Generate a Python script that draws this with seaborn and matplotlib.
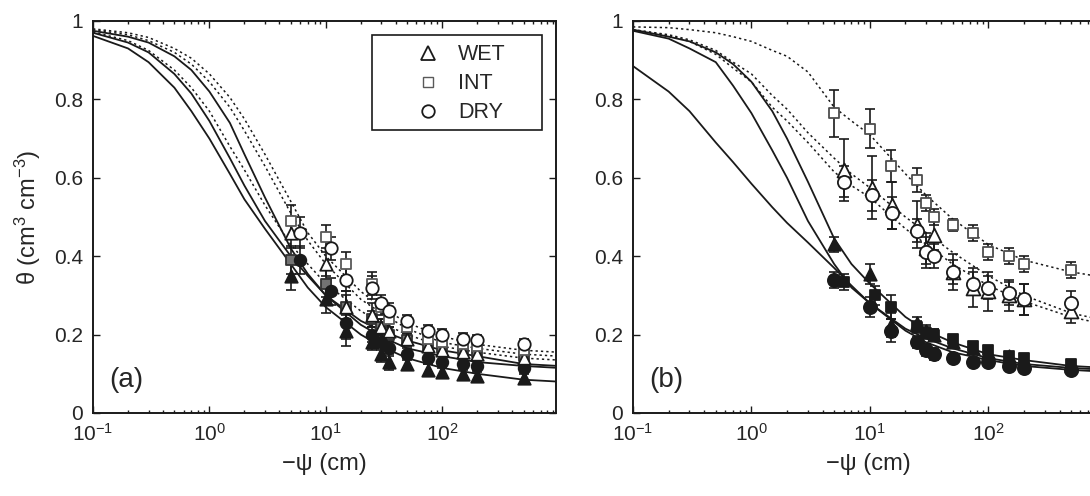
import matplotlib
matplotlib.use("Agg")
import numpy as np
import pandas as pd
import seaborn as sns
import matplotlib.pyplot as plt
from matplotlib.lines import Line2D
from matplotlib.patches import Rectangle
from matplotlib.ticker import FixedLocator, LogLocator, NullFormatter, FixedFormatter

# ---------------- data ----------------
psi_grid = [0.1, 0.2, 0.3, 0.5, 0.7, 1, 1.5, 2, 3, 5, 7, 10, 20, 30, 50, 100, 200, 500, 1000]

# panel (a) fitted curves (solid: filled symbols, dotted: open symbols)
a_solid_1 = [0.962, 0.93, 0.895, 0.83, 0.77, 0.70, 0.61, 0.545, 0.47, 0.38, 0.32, 0.27, 0.20, 0.17, 0.14, 0.115, 0.10, 0.085, 0.08]
a_solid_2 = [0.97, 0.945, 0.92, 0.865, 0.815, 0.745, 0.65, 0.58, 0.49, 0.40, 0.35, 0.30, 0.235, 0.21, 0.185, 0.16, 0.145, 0.125, 0.12]
a_solid_3 = [0.975, 0.96, 0.945, 0.91, 0.875, 0.82, 0.74, 0.66, 0.55, 0.42, 0.355, 0.30, 0.225, 0.195, 0.165, 0.145, 0.13, 0.12, 0.115]
a_dot_1 = [0.972, 0.95, 0.925, 0.875, 0.83, 0.77, 0.68, 0.62, 0.53, 0.43, 0.38, 0.33, 0.26, 0.23, 0.20, 0.17, 0.155, 0.14, 0.135]
a_dot_2 = [0.978, 0.965, 0.95, 0.92, 0.89, 0.845, 0.78, 0.72, 0.63, 0.51, 0.44, 0.38, 0.29, 0.255, 0.215, 0.18, 0.165, 0.15, 0.145]
a_dot_3 = [0.98, 0.97, 0.958, 0.93, 0.905, 0.865, 0.805, 0.75, 0.66, 0.54, 0.46, 0.40, 0.31, 0.27, 0.23, 0.195, 0.175, 0.16, 0.155]

# panel (a) measurements
a_psi = [5, 10, 15, 25, 30, 35, 50, 75, 100, 150, 200, 500]
a_psi_dry = [6, 11, 15, 25, 30, 35, 50, 75, 100, 150, 200, 500]
a_wet_open = [0.46, 0.38, 0.27, 0.25, 0.22, 0.21, 0.19, 0.17, 0.16, 0.155, 0.15, 0.14]
a_int_open = [0.49, 0.45, 0.38, 0.33, 0.27, 0.24, 0.22, 0.19, 0.18, 0.175, 0.17, 0.16]
a_dry_open = [0.46, 0.42, 0.34, 0.32, 0.28, 0.26, 0.235, 0.21, 0.20, 0.19, 0.185, 0.175]
a_wet_fill = [0.35, 0.29, 0.21, 0.18, 0.15, 0.13, 0.125, 0.11, 0.105, 0.10, 0.095, 0.09]
a_int_fill = [0.39, 0.33, 0.27, 0.24, 0.22, 0.20, 0.185, 0.17, 0.165, 0.16, 0.155, 0.145]
a_dry_fill = [0.39, 0.31, 0.23, 0.20, 0.18, 0.165, 0.15, 0.14, 0.13, 0.125, 0.12, 0.115]
a_err_open = [0.04, 0.03, 0.03, 0.03, 0.02, 0.02, 0.015, 0.015, 0.015, 0.015, 0.015, 0.015]
a_err_fill = [0.035, 0.035, 0.04, 0.02, 0.02, 0.02, 0.015, 0.015, 0.015, 0.015, 0.015, 0.015]

# panel (b) fitted curves
b_solid_1 = [0.885, 0.82, 0.77, 0.69, 0.64, 0.585, 0.525, 0.485, 0.435, 0.37, 0.325, 0.28, 0.21, 0.18, 0.155, 0.135, 0.12, 0.11, 0.105]
b_solid_2 = [0.975, 0.955, 0.93, 0.895, 0.835, 0.765, 0.67, 0.60, 0.49, 0.38, 0.32, 0.28, 0.215, 0.19, 0.165, 0.14, 0.125, 0.115, 0.11]
b_solid_3 = [0.978, 0.96, 0.948, 0.92, 0.89, 0.845, 0.77, 0.70, 0.59, 0.445, 0.38, 0.33, 0.245, 0.21, 0.18, 0.15, 0.135, 0.12, 0.115]
b_dot_1 = [0.985, 0.983, 0.978, 0.97, 0.96, 0.948, 0.925, 0.91, 0.87, 0.78, 0.745, 0.71, 0.61, 0.555, 0.495, 0.43, 0.39, 0.36, 0.345]
b_dot_2 = [0.978, 0.965, 0.952, 0.925, 0.895, 0.865, 0.81, 0.775, 0.715, 0.65, 0.61, 0.575, 0.50, 0.46, 0.41, 0.35, 0.30, 0.255, 0.235]
b_dot_3 = [0.978, 0.963, 0.948, 0.915, 0.88, 0.845, 0.78, 0.745, 0.69, 0.615, 0.58, 0.55, 0.47, 0.43, 0.38, 0.325, 0.285, 0.245, 0.225]

# panel (b) measurements
b_psi = [5, 10, 15, 25, 30, 35, 50, 75, 100, 150, 200, 500]
b_psi_open = [6, 10.5, 15.5, 25, 30, 35, 50, 75, 100, 150, 200, 500]
b_psi_sq = [6, 11, 15, 25, 30, 35, 50, 75, 100, 150, 200, 500]
b_int_open = [0.765, 0.725, 0.63, 0.595, 0.535, 0.50, 0.48, 0.46, 0.41, 0.40, 0.38, 0.365]
b_int_open_err = [0.06, 0.05, 0.04, 0.03, 0.02, 0.02, 0.015, 0.02, 0.02, 0.02, 0.02, 0.02]
b_wet_open = [0.62, 0.575, 0.53, 0.48, 0.42, 0.455, 0.36, 0.32, 0.31, 0.30, 0.29, 0.26]
b_wet_open_err = [0.08, 0.08, 0.06, 0.06, 0.04, 0.04, 0.045, 0.05, 0.05, 0.04, 0.04, 0.03]
b_dry_open = [0.59, 0.555, 0.51, 0.465, 0.41, 0.40, 0.36, 0.33, 0.32, 0.305, 0.29, 0.28]
b_dry_open_err = [0.04, 0.04, 0.04, 0.03, 0.04, 0.03, 0.03, 0.03, 0.03, 0.03, 0.04, 0.03]
b_wet_fill = [0.43, 0.355, 0.225, 0.23, 0.21, 0.20, 0.18, 0.165, 0.155, 0.145, 0.135, 0.12]
b_int_fill = [0.335, 0.30, 0.27, 0.22, 0.205, 0.20, 0.19, 0.17, 0.16, 0.145, 0.14, 0.125]
b_dry_fill = [0.34, 0.27, 0.21, 0.18, 0.16, 0.15, 0.14, 0.13, 0.13, 0.12, 0.115, 0.11]
b_err_fill = [0.02, 0.025, 0.03, 0.015, 0.015, 0.015, 0.01, 0.01, 0.01, 0.01, 0.01, 0.01]

legend_labels = ["WET", "INT", "DRY"]
x_ticks = [0.1, 1, 10, 100]
y_ticks = [0, 0.2, 0.4, 0.6, 0.8, 1]
y_tick_labels = ["0", "0.2", "0.4", "0.6", "0.8", "1"]

# ---------------- style ----------------
sns.set_theme(style="ticks")
plt.rcParams["font.family"] = ["Liberation Sans", "DejaVu Sans"]
plt.rcParams["mathtext.fontset"] = "custom"
plt.rcParams["mathtext.rm"] = "Liberation Sans"
plt.rcParams["mathtext.it"] = "Liberation Sans:italic"

W, H = 1090, 496
TOP, BOT = 21, 413
fig = plt.figure(figsize=(W / 100, H / 100), dpi=100)
axa = fig.add_axes([93 / W, (H - BOT) / H, 463 / W, (BOT - TOP) / H])
axb = fig.add_axes([633 / W, (H - BOT) / H, 471 / W, (BOT - TOP) / H])


def curve(ax, vals, dotted):
    sns.lineplot(x=psi_grid, y=vals, ax=ax, color="k",
                 linestyle=(0, (1.5, 2.0)) if dotted else "-",
                 lw=1.1 if dotted else 1.3, zorder=1, legend=False)


def points(ax, x, y, err, marker, face, edge, s):
    ax.errorbar(x, y, yerr=err, fmt="none", ecolor="k", elinewidth=1.2,
                capsize=3.5, capthick=1.2, zorder=2)
    sns.scatterplot(x=x, y=y, ax=ax, marker=marker, s=s, facecolor=face,
                    edgecolor=edge, linewidth=1.3, zorder=3, legend=False)


def style(ax, label):
    ax.set_xscale("log")
    ax.set_xlim(0.1, 950)
    ax.set_ylim(0, 1)
    ax.xaxis.set_major_locator(FixedLocator(x_ticks))
    ax.xaxis.set_minor_locator(LogLocator(base=10, subs=np.arange(2, 10)))
    ax.xaxis.set_minor_formatter(NullFormatter())
    ax.yaxis.set_major_locator(FixedLocator(y_ticks))
    ax.yaxis.set_major_formatter(FixedFormatter(y_tick_labels))
    ax.tick_params(which="both", direction="in", top=True, right=True,
                   labelsize=15, color="k", width=1.0)
    ax.tick_params(which="major", length=5, pad=7)
    ax.tick_params(which="minor", length=2.5)
    for sp in ax.spines.values():
        sp.set_visible(True)
        sp.set_linewidth(1.4)
        sp.set_color("k")
    ax.set_xlabel("\u2212\u03c8 (cm)", fontsize=17, labelpad=6)
    ax.text(0.035, 0.085, label, transform=ax.transAxes, fontsize=20,
            ha="left", va="center")
    ax.set_facecolor("white")


# ---------------- panel (a) ----------------
for c in (a_solid_1, a_solid_2, a_solid_3):
    curve(axa, c, False)
for c in (a_dot_1, a_dot_2, a_dot_3):
    curve(axa, c, True)
points(axa, a_psi, a_wet_fill, a_err_fill, "^", "k", "k", 80)
points(axa, a_psi, a_int_fill, a_err_fill, "s", "0.45", "0.2", 55)
points(axa, a_psi_dry, a_dry_fill, a_err_fill, "o", "k", "k", 70)
points(axa, a_psi, a_wet_open, a_err_open, "^", "white", "k", 80)
points(axa, a_psi, a_int_open, a_err_open, "s", "white", "0.35", 55)
points(axa, a_psi_dry, a_dry_open, a_err_open, "o", "white", "k", 80)
style(axa, "(a)")
axa.set_ylabel("\u03b8 (cm$^3$ cm$^{-3}$)", fontsize=17, labelpad=8)

# legend frame (drawn as a box) and legend entries
axa.add_patch(Rectangle((0.603, 0.722), 0.367, 0.242, transform=axa.transAxes,
                        facecolor="white", edgecolor="k", lw=1.2, zorder=4))
handles = [
    Line2D([], [], ls="none", marker="^", ms=10, mfc="white", mec="k", mew=1.3),
    Line2D([], [], ls="none", marker="s", ms=6.5, mfc="white", mec="0.35", mew=1.0),
    Line2D([], [], ls="none", marker="o", ms=9, mfc="white", mec="k", mew=1.3),
]
leg = axa.legend(handles, legend_labels, loc="upper left",
                 bbox_to_anchor=(0.659, 0.963), fontsize=15.5, frameon=False,
                 borderpad=0.4, handletextpad=0.4, labelspacing=0.38,
                 borderaxespad=0, handlelength=2.0)
leg.set_zorder(5)

# ---------------- panel (b) ----------------
for c in (b_solid_1, b_solid_2, b_solid_3):
    curve(axb, c, False)
for c in (b_dot_1, b_dot_2, b_dot_3):
    curve(axb, c, True)
points(axb, b_psi, b_wet_fill, b_err_fill, "^", "k", "k", 80)
points(axb, b_psi_sq, b_int_fill, b_err_fill, "s", "k", "k", 60)
points(axb, b_psi, b_dry_fill, b_err_fill, "o", "k", "k", 90)
points(axb, b_psi, b_int_open, b_int_open_err, "s", "white", "0.3", 60)
points(axb, b_psi_open, b_wet_open, b_wet_open_err, "^", "white", "k", 100)
points(axb, b_psi_open, b_dry_open, b_dry_open_err, "o", "white", "k", 90)
style(axb, "(b)")

fig.savefig("out.png", dpi=100)
